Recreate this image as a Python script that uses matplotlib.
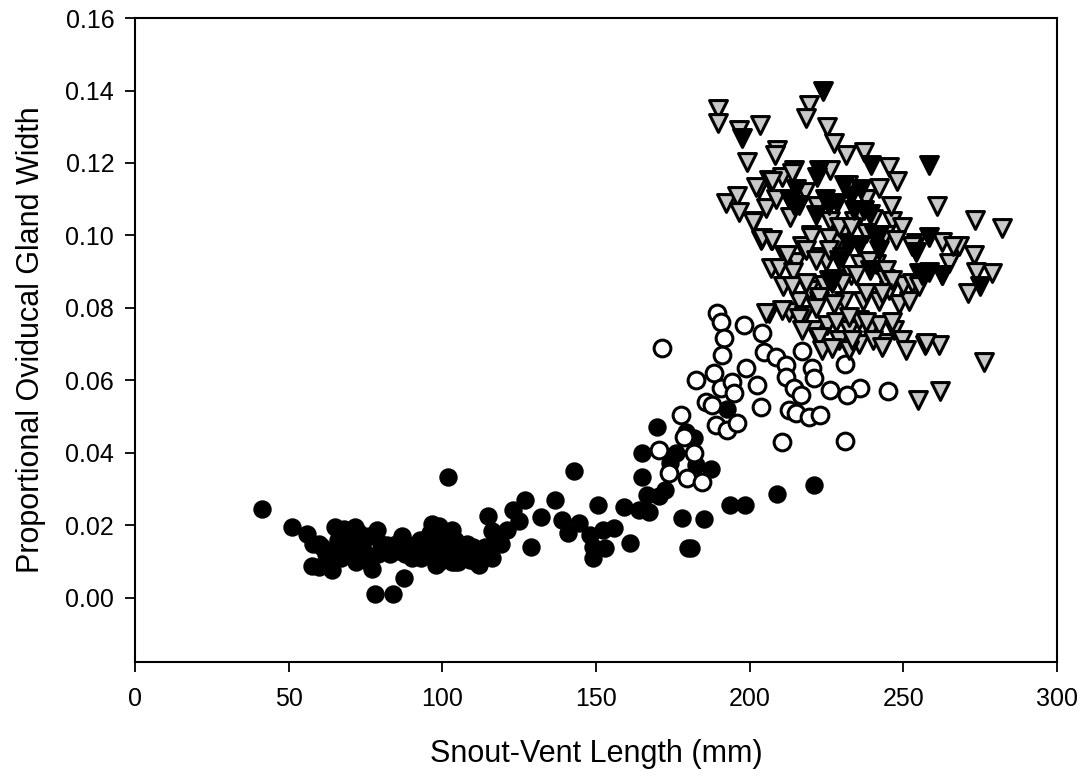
import numpy as np
import matplotlib.pyplot as plt
import matplotlib

matplotlib.rcParams['font.family'] = ['Liberation Sans', 'DejaVu Sans']

# black filled circles
svl_black = [41.3, 51, 56, 57.5, 60, 61, 64, 65, 68, 71.5, 74, 77, 78.6, 78, 84, 87.4,
             82, 84.5, 89, 92.6, 96.5, 99, 102, 103.3, 105.6, 109, 112, 115, 116, 121,
             123, 125, 127, 132, 129, 136.5, 139, 141, 143, 144.6, 148, 149, 149, 150.5,
             152.4, 153, 156, 159, 161, 164, 165, 165, 166.7, 167.4, 170, 172.6, 174,
             178, 179.4, 180, 181, 182, 182.6, 185, 187.5, 192.7, 193.7, 198.6, 209, 221,
             58, 62, 66, 70, 72, 75, 80, 86, 90, 94, 97, 100, 101, 104, 106, 108, 110,
             111, 113, 114, 117, 119, 67, 69, 73, 76, 98, 103, 107, 118, 170.6, 176,
             60, 63, 66, 68, 70, 72, 74, 76, 79, 81, 83, 85, 88, 91, 93, 95, 97, 99,
             102, 104, 106, 108, 110, 112, 114, 116, 100, 96, 87, 105]
pogw_black = [0.0246, 0.0196, 0.0177, 0.0088, 0.0086, 0.014, 0.0077, 0.0196, 0.019, 0.0196,
              0.0146, 0.008, 0.0188, 0.001, 0.001, 0.0055, 0.0146, 0.014, 0.0146, 0.016,
              0.0205, 0.0199, 0.0334, 0.0188, 0.0146, 0.0105, 0.009, 0.0226, 0.0185, 0.0188,
              0.0243, 0.0213, 0.027, 0.0224, 0.014, 0.027, 0.0215, 0.018, 0.035, 0.0207,
              0.0174, 0.014, 0.011, 0.0257, 0.0188, 0.0138, 0.0193, 0.025, 0.0152, 0.0243,
              0.040, 0.0334, 0.0284, 0.0237, 0.0472, 0.0298, 0.0373, 0.022, 0.0458, 0.0138,
              0.0138, 0.044, 0.0367, 0.0218, 0.0356, 0.052, 0.0257, 0.0257, 0.0287, 0.0312,
              0.015, 0.012, 0.016, 0.013, 0.017, 0.012, 0.015, 0.013, 0.011, 0.012, 0.014,
              0.011, 0.013, 0.010, 0.012, 0.011, 0.012, 0.010, 0.011, 0.013, 0.016, 0.015,
              0.011, 0.016, 0.018, 0.010, 0.009, 0.010, 0.011, 0.017, 0.028, 0.040,
              0.015, 0.013, 0.011, 0.014, 0.016, 0.010, 0.012, 0.017, 0.012, 0.014, 0.012,
              0.015, 0.012, 0.013, 0.011, 0.015, 0.013, 0.010, 0.014, 0.016, 0.013, 0.015,
              0.014, 0.012, 0.014, 0.011, 0.017, 0.018, 0.017, 0.010]

# open circles
svl_open = [171.6, 189.5, 190.8, 191.7, 191.1, 198.2, 204.1, 204.7, 182.6, 188.5, 190.8,
            194.3, 195, 198.9, 202.5, 203.8, 185.9, 187.8, 189.1, 192.7, 196, 177.8, 178.7,
            182, 170.6, 173.9, 179.7, 184.6, 208.6, 211.9, 211.9, 214.5, 216.8, 212.9,
            215.1, 219.4, 210.6, 220.3, 221, 226, 231, 236, 245, 231, 231.7, 223, 217]
pogw_open = [0.069, 0.0787, 0.076, 0.0718, 0.0671, 0.0754, 0.0732, 0.0679, 0.0602, 0.0621,
             0.058, 0.0596, 0.0566, 0.0635, 0.0588, 0.0527, 0.0541, 0.0533, 0.0477, 0.0464,
             0.0483, 0.0505, 0.0444, 0.040, 0.0408, 0.0345, 0.0331, 0.032, 0.0665, 0.0643,
             0.061, 0.058, 0.056, 0.0519, 0.0511, 0.050, 0.0431, 0.0635, 0.0607, 0.0574,
             0.0646, 0.058, 0.057, 0.0433, 0.056, 0.0505, 0.068]

# gray triangles
svl_gray = [189.6, 189.6, 196.6, 203.4, 219.4, 218.4, 225.2, 227.5, 209, 208.3, 199.2,
            231.4, 237.2, 245.4, 261, 273.3, 282, 214.5, 192.4, 196, 196.6, 201.5, 205.4,
            203, 206.4, 210.6, 208.6, 203.8, 207, 211.2, 215, 207, 209.6, 211, 246.3, 249.6,
            254, 262.6, 268, 273, 279, 273.6, 271, 255, 206.4, 212.9, 216, 219.4, 224.3,
            222.6, 217.7, 221, 225.2, 229, 232.4, 235.6, 239, 242, 247, 249.6, 243.6, 235.6,
            248.6, 251.9, 242, 237, 245.4, 250, 230.7, 227.5, 232.4, 261.6, 257, 254.8,
            262, 276.2, 218, 222, 226, 230, 234, 238, 242, 246, 220, 228, 236, 244, 213,
            217, 225, 233, 241, 248, 226, 232, 238, 244, 214, 222, 230, 236, 240, 228,
            202, 207.4, 213.8, 201, 204, 207.4, 212, 220, 225.9, 229, 233, 238, 218.4,
            221.6, 225.9, 230, 213.8, 218.4, 222.6, 234.6, 238.9, 244.4, 247.6, 252.8,
            252.8, 246.3, 238, 243, 210.6, 205.4, 216, 221.6, 217, 222.6, 223.6, 226.8,
            228, 232.4, 233.4, 238, 240, 243, 246.3, 250.8, 257.4, 255, 265, 266]
pogw_gray = [0.135, 0.131, 0.129, 0.1306, 0.136, 0.1325, 0.130, 0.1256, 0.1237, 0.1223,
             0.1203, 0.1223, 0.1231, 0.119, 0.108, 0.1043, 0.102, 0.118, 0.109, 0.111,
             0.1066, 0.104, 0.1077, 0.113, 0.1154, 0.116, 0.110, 0.0988, 0.0988, 0.0947,
             0.0928, 0.0911, 0.0911, 0.086, 0.104, 0.1024, 0.098, 0.0983, 0.097, 0.0947,
             0.0897, 0.090, 0.0842, 0.0897, 0.0787, 0.079, 0.082, 0.085, 0.0864, 0.082,
             0.078, 0.074, 0.0754, 0.0712, 0.074, 0.0767, 0.074, 0.0754, 0.074, 0.0712,
             0.0704, 0.070, 0.081, 0.082, 0.082, 0.082, 0.085, 0.0864, 0.082, 0.081, 0.0685,
             0.0698, 0.0698, 0.0547, 0.0571, 0.0651, 0.112, 0.108, 0.104, 0.100, 0.104,
             0.110, 0.113, 0.108, 0.100, 0.096, 0.092, 0.100, 0.105, 0.097, 0.093, 0.089,
             0.092, 0.115, 0.118, 0.114, 0.110, 0.088, 0.090, 0.094, 0.087, 0.106, 0.1045,
             0.098,
             0.1135, 0.115, 0.1173, 0.1038, 0.0994, 0.0988, 0.0947, 0.0997, 0.0994, 0.1024,
             0.1024, 0.1008, 0.096, 0.0933, 0.096, 0.094, 0.086, 0.087, 0.083, 0.089,
             0.093, 0.0905, 0.0988, 0.097, 0.087, 0.0878, 0.0842, 0.0842, 0.0795, 0.0787,
             0.0773, 0.080, 0.074, 0.072, 0.0685, 0.069, 0.076, 0.0776, 0.0712, 0.076,
             0.0712, 0.0693, 0.076, 0.0685, 0.0704, 0.086, 0.0925, 0.097]

# black triangles
svl_btri = [224, 197.6, 239.5, 258.4, 222, 224.6, 214.5, 228.5, 234, 239, 240.5, 239,
            227.5, 258.4, 254, 262.6, 258.4, 275, 232.4, 242, 236.3, 230.8,
            222.6, 215, 216.2, 221.6, 225.9, 233, 237.2, 242, 235.6, 229, 225.9, 226.8,
            212.9, 256, 262.6]
pogw_btri = [0.140, 0.127, 0.1195, 0.1195, 0.116, 0.110, 0.1085, 0.109, 0.107, 0.106,
             0.100, 0.0905, 0.088, 0.0997, 0.0955, 0.089, 0.090, 0.086, 0.0975, 0.096,
             0.1127, 0.114,
             0.118, 0.1127, 0.1085, 0.1057, 0.1085, 0.111, 0.107, 0.100, 0.0975, 0.0933,
             0.0878, 0.087, 0.110, 0.089, 0.089]

fig = plt.figure(figsize=(10.88, 7.77), dpi=100)
ax = fig.add_axes([0.1241, 0.148, 0.8474, 0.8288])

ax.scatter(svl_black, pogw_black, s=150, c='black', edgecolors='black', linewidths=1, zorder=3)
ax.scatter(svl_open, pogw_open, s=145, c='white', edgecolors='black', linewidths=2.2, zorder=4)
ax.scatter(svl_gray, pogw_gray, s=165, marker='v', c='#c8c8c8', edgecolors='black', linewidths=2.2, zorder=5)
ax.scatter(svl_btri, pogw_btri, s=165, marker='v', c='black', edgecolors='black', linewidths=2.2, zorder=6)

ax.set_xlim(0, 300)
ax.set_ylim(-0.0177, 0.16)
ax.set_xticks(np.arange(0, 301, 50))
ax.set_yticks(np.arange(0, 0.161, 0.02))
ax.set_yticklabels(['%.2f' % v for v in np.arange(0, 0.161, 0.02)])
ax.tick_params(direction='out', length=7, width=1.3, labelsize=18)
ax.tick_params(axis='x', pad=11)
ax.tick_params(axis='y', pad=8)
for sp in ax.spines.values():
    sp.set_linewidth(1.5)

ax.set_xlabel('Snout-Vent Length (mm)', fontsize=22, labelpad=20)
ax.set_ylabel('Proportional Oviducal Gland Width', fontsize=22, labelpad=14)

plt.savefig('out.png', dpi=100)
